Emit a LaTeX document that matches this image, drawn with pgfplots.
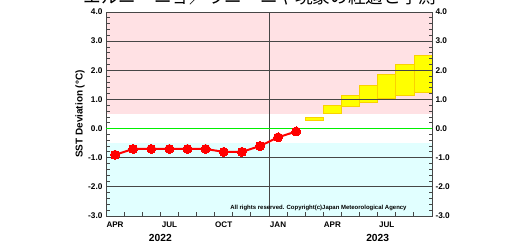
\documentclass[border=0pt]{standalone}
\usepackage{pgfplots}
\pgfplotsset{compat=1.18}
\usepackage{fontspec}
\setmainfont{Liberation Sans}
\newfontfamily\jp{Noto Sans CJK JP}
\definecolor{pinkbg}{RGB}{255,225,228}
\definecolor{cyanbg}{RGB}{225,255,255}
\definecolor{boxfill}{RGB}{255,255,0}
\definecolor{boxdraw}{RGB}{250,210,0}
\definecolor{gridc}{RGB}{70,70,70}
\definecolor{zeroline}{RGB}{0,240,0}
\begin{document}
\begin{tikzpicture}
\begin{axis}[name=ax, scale only axis, width=326bp, height=204bp,
  xmin=0, xmax=18, ymin=-3, ymax=4,
  set layers, clip=false,
  axis line style={draw=gridc, line width=0.9bp},
  tick align=inside,
  xtick={0.5,3.5,6.5,9.5,12.5,15.5},
  xticklabels={APR,JUL,OCT,JAN,APR,JUL},
  major x tick style={draw=none},
  minor xtick={1,2,3,4,5,6,7,8,9,10,11,12,13,14,15,16,17},
  minor x tick style={draw=gridc, line width=0.8bp},
  xtick pos=bottom,
  x tick label style={font=\fontsize{8.1}{9}\selectfont\bfseries, yshift=-2bp},
  ytick={-3,-2,-1,0,1,2,3,4},
  minor y tick num=4,
  ytick pos=both, yticklabel pos=left,
  y tick style={draw=gridc, line width=0.8bp},
  major tick length=5bp, minor tick length=3.5bp,
  yticklabel={\pgfmathprintnumber[fixed,fixed zerofill,precision=1,assume math mode=true]{\tick}},
  y tick label style={font=\fontsize{8.3}{9}\selectfont\bfseries},
  extra y ticks={-2,-1,1,2,3},
  extra y tick labels={},
  extra y tick style={grid=major, major tick length=0bp},
  extra x ticks={9},
  extra x tick labels={},
  extra x tick style={grid=major, major tick length=0bp},
  major grid style={draw=gridc, line width=0.8bp},
  ylabel={SST Deviation (°C)},
  ylabel style={font=\fontsize{10}{11}\selectfont\bfseries, at={(axis description cs:-0.0798,0.5)}, anchor=center},
]
% background bands
\addplot[on layer=axis background, draw=none, fill=pinkbg] coordinates {(0,0.5) (18,0.5) (18,4) (0,4)} -- cycle;
\addplot[on layer=axis background, draw=none, fill=cyanbg] coordinates {(0,-3) (18,-3) (18,-0.5) (0,-0.5)} -- cycle;
% forecast ranges (month start, low, high)
\addplot[on layer=axis background, draw=boxdraw, fill=boxfill, line width=0.7bp] coordinates {(11,0.27) (12,0.27) (12,0.37) (11,0.37)} -- cycle;
\addplot[on layer=axis background, draw=boxdraw, fill=boxfill, line width=0.7bp] coordinates {(12,0.53) (13,0.53) (13,0.78) (12,0.78)} -- cycle;
\addplot[on layer=axis background, draw=boxdraw, fill=boxfill, line width=0.7bp] coordinates {(13,0.75) (14,0.75) (14,1.15) (13,1.15)} -- cycle;
\addplot[on layer=axis background, draw=boxdraw, fill=boxfill, line width=0.7bp] coordinates {(14,0.90) (15,0.90) (15,1.50) (14,1.50)} -- cycle;
\addplot[on layer=axis background, draw=boxdraw, fill=boxfill, line width=0.7bp] coordinates {(15,1.02) (16,1.02) (16,1.87) (15,1.87)} -- cycle;
\addplot[on layer=axis background, draw=boxdraw, fill=boxfill, line width=0.7bp] coordinates {(16,1.13) (17,1.13) (17,2.21) (16,2.21)} -- cycle;
\addplot[on layer=axis background, draw=boxdraw, fill=boxfill, line width=0.7bp] coordinates {(17,1.23) (18,1.23) (18,2.50) (17,2.50)} -- cycle;
% zero line
\addplot[zeroline, line width=1bp] coordinates {(0,0) (18,0)};
% observed
\addplot[red, line width=2bp, mark=*, mark size=4.5bp, mark options={fill=red, draw=red, line width=0pt}] coordinates {
(0.5,-0.9) (1.5,-0.7) (2.5,-0.7) (3.5,-0.7) (4.5,-0.7) (5.5,-0.7) (6.5,-0.8) (7.5,-0.8) (8.5,-0.6) (9.5,-0.3) (10.5,-0.1)};
\node[anchor=east, font=\fontsize{6}{7}\selectfont\bfseries] at (axis cs:16.79,-2.74) {All rights reserved. Copyright(c)Japan Meteorological Agency};
\node[font=\fontsize{10.3}{11}\selectfont\bfseries] at ([yshift=-22bp]axis cs:3,-3) {2022};
\node[font=\fontsize{10.3}{11}\selectfont\bfseries] at ([yshift=-22bp]axis cs:15,-3) {2023};
\end{axis}
\begin{axis}[at={(ax.south west)}, anchor=south west, scale only axis, width=326bp, height=204bp,
  xmin=0, xmax=18, ymin=-3, ymax=4,
  hide x axis, axis y line*=right, axis line style={draw=none},
  ytick={-3,-2,-1,0,1,2,3,4}, major tick length=0bp,
  yticklabel={\pgfmathprintnumber[fixed,fixed zerofill,precision=1,assume math mode=true]{\tick}},
  y tick label style={font=\fontsize{8.3}{9}\selectfont\bfseries},
]
\addplot[draw=none] coordinates {(0,0)};
\end{axis}
\node[font=\jp\fontsize{17.7}{18}\selectfont, anchor=base] at ([xshift=-9bp,yshift=8bp]ax.north) {エルニーニョ／ラニーニャ現象の経過と予測};
\pgfresetboundingbox
\path[use as bounding box] ([xshift=-106bp,yshift=-29bp]ax.south west) rectangle ([xshift=88bp,yshift=12bp]ax.north east);
\end{tikzpicture}
\end{document}
